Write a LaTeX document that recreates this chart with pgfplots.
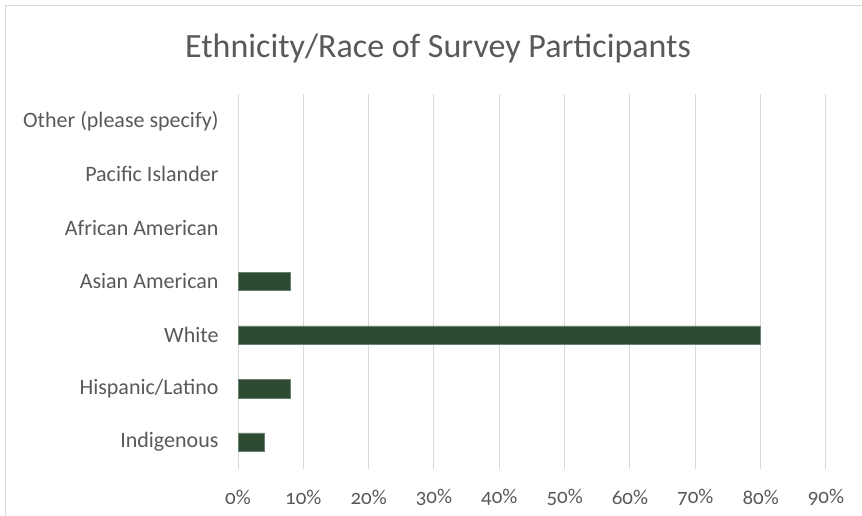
\documentclass[border=0pt]{standalone}
\usepackage{fontspec}
\setmainfont{Carlito}[Numbers=OldStyle]
\usepackage{pgfplots}
\pgfplotsset{compat=1.18}
\definecolor{txt}{HTML}{595959}
\definecolor{grid}{HTML}{D9D9D9}
\definecolor{bar}{HTML}{2D4A33}
\definecolor{frame}{HTML}{D9D9D9}
\begin{document}
\begin{tikzpicture}[x=1pt,y=1pt]
\useasboundingbox (0,0) rectangle (862,516);
\draw[frame, line width=1pt] (5,-5) -- (5,510) -- (870,510);
\node[text=txt, font=\fontsize{34}{39}\selectfont] at (438,468) {Ethnicity/Race of Survey Participants};
\begin{axis}[
  at={(238pt,47pt)}, anchor=south west,
  scale only axis, width=588pt, height=375pt,
  xbar, bar width=18.5pt,
  xmin=0, xmax=90, ymin=-0.5, ymax=6.5,
  xtick={0,10,...,90},
  xticklabels={0\%,10\%,20\%,30\%,40\%,50\%,60\%,70\%,80\%,90\%},
  ytick={0,...,6},
  yticklabels={Indigenous,Hispanic/Latino,White,Asian American,African American,Pacific Islander,Other (please specify)},
  xmajorgrids=true, ymajorgrids=false,
  x grid style={grid, line width=1pt},
  axis line style={draw=none},
  major tick length=0pt,
  tick style={draw=none},
  tick label style={text=txt},
  xticklabel style={font=\fontsize{21}{25}\selectfont, anchor=center, yshift=-28pt},
  yticklabel style={font=\fontsize{22}{26}\selectfont, xshift=-16pt},
  /pgf/number format/assume math mode=true,
  clip=false,
]
\addplot[fill=bar, draw=bar!70!white, line width=0.6pt] coordinates {(4,0) (8,1) (80,2) (8,3)};
\end{axis}
\end{tikzpicture}
\end{document}
